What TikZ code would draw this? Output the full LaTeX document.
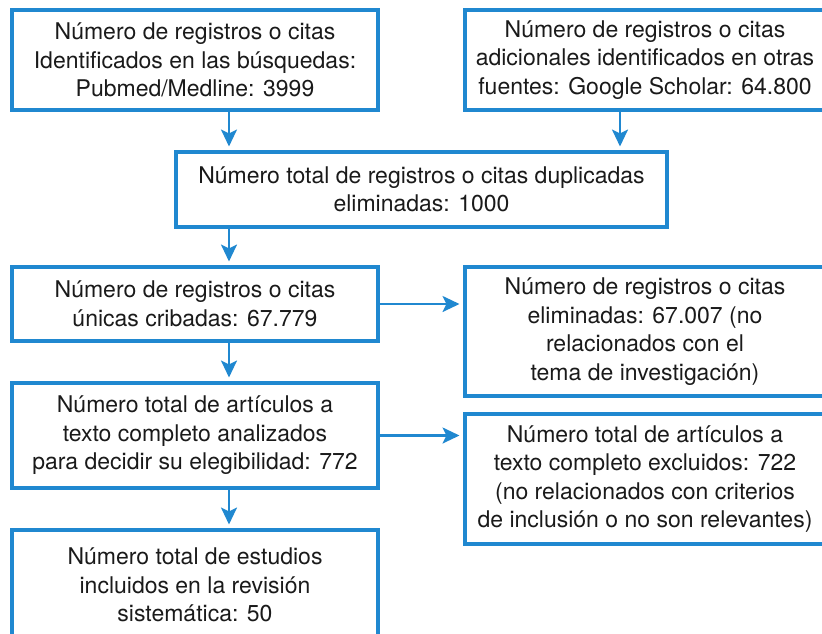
\documentclass[tikz,border=0pt]{standalone}
\usepackage{fontspec}
\setmainfont{TeX Gyre Heros}
\usetikzlibrary{arrows.meta,positioning,calc}

\definecolor{azul}{RGB}{32,136,208}
\definecolor{tinta}{RGB}{26,26,26}

\tikzset{
  caja/.style={draw=azul, line width=3.2pt, outer sep=0pt, inner sep=0pt,
    anchor=north west, align=center, text=tinta,
    font=\fontsize{23}{28.5}\selectfont},
  flecha/.style={-{Stealth[length=17pt,width=16pt,inset=4pt]}, draw=azul,
    line width=2.6pt, shorten >=5.5pt}
}

\begin{document}
\begin{tikzpicture}[x=1pt, y=-1pt]
  \useasboundingbox (0,0) rectangle (822,633);

  % fila de busquedas
  \node[caja, minimum width=366pt, minimum height=100pt] (ident) at (12,10)
    {Número de registros o citas\\Identificados en las búsquedas:\\Pubmed/Medline: 3999};
  \node[caja, minimum width=360pt, minimum height=100pt] (otras) at (465,10)
    {Número de registros o citas\\adicionales identificados en otras\\fuentes: Google Scholar: 64.800};

  \node[caja, minimum width=491pt, minimum height=75pt] (dupl) at (176,152)
    {Número total de registros o citas duplicadas\\eliminadas: 1000};

  % cribado
  \node[caja, minimum width=366pt, minimum height=74pt] (cribadas) at (12,267)
    {Número de registros o citas\\únicas cribadas: 67.779};
  \node[caja, minimum width=360pt, minimum height=129pt] (elim) at (465,267)
    {Número de registros o citas\\eliminadas: 67.007 (no\\relacionados con el\\tema de investigación)};

  % elegibilidad
  \node[caja, minimum width=366pt, minimum height=105pt] (texto) at (12,383)
    {Número total de artículos a\\texto completo analizados\\para decidir su elegibilidad: 772};
  \node[caja, minimum width=360pt, minimum height=130pt] (excl) at (465,414)
    {Número total de artículos a\\texto completo excluidos: 722\\(no relacionados con criterios\\de inclusión o no son relevantes)};

  % incluidos
  \node[caja, minimum width=366pt, minimum height=110pt] (incl) at (12,530)
    {Número total de estudios\\incluidos en la revisión\\sistemática: 50};

  \coordinate (colA) at (229,0);
  \coordinate (colB) at (620,0);

  \draw[flecha] (ident.south -| colA) -- (dupl.north -| colA);
  \draw[flecha] (otras.south -| colB) -- (dupl.north -| colB);
  \draw[flecha] (dupl.south -| colA) -- (cribadas.north -| colA);
  \draw[flecha] (cribadas.south -| colA) -- (texto.north -| colA);
  \draw[flecha] (texto.south -| colA) -- (incl.north -| colA);
  \draw[flecha] (cribadas.east) -- (cribadas.east -| elim.west);
  \draw[flecha] (texto.east) -- (texto.east -| excl.west);
\end{tikzpicture}
\end{document}
